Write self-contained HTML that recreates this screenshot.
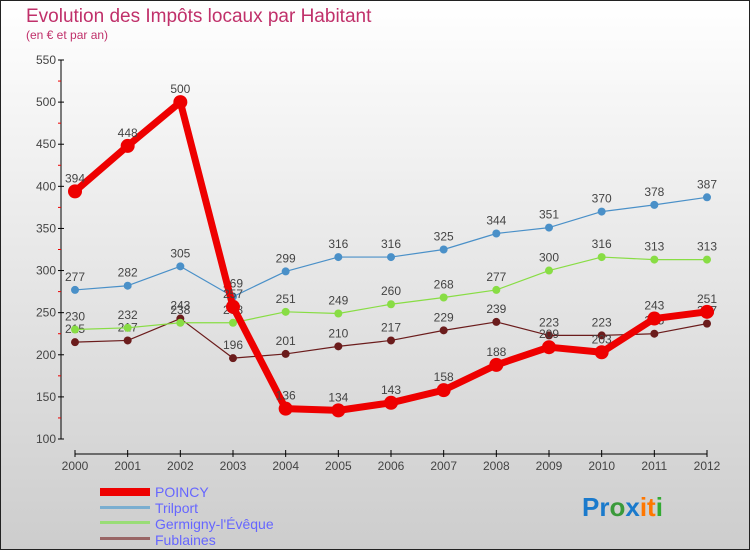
<!DOCTYPE html>
<html><head><meta charset="utf-8"><style>
body{margin:0;width:750px;height:550px;overflow:hidden}
svg{display:block;font-family:"Liberation Sans",sans-serif}
</style></head><body>
<svg id="c" width="750" height="550">
<defs><linearGradient id="bg" x1="0" y1="0" x2="0" y2="1"><stop offset="0" stop-color="#ffffff"/><stop offset="1" stop-color="#cdcdcd"/></linearGradient></defs>
<rect x="0.5" y="0.5" width="749" height="549" fill="url(#bg)" stroke="#222"/>
<text x="26" y="22" font-size="19" fill="#c0306a">Evolution des Impôts locaux par Habitant</text>
<text x="26" y="39" font-size="12" fill="#c0306a">(en € et par an)</text>
<g id="axes"></g>
<g id="series"></g>
<g>
<rect x="100" y="488" width="50" height="8" fill="#ee0000"/>
<text x="155" y="497" font-size="14" fill="#6666ff">POINCY</text>
<rect x="100" y="506" width="50" height="3" fill="#7aaed0"/>
<text x="155" y="513" font-size="14" fill="#6666ff">Trilport</text>
<rect x="100" y="521" width="50" height="3" fill="#99dd77"/>
<text x="155" y="529" font-size="14" fill="#6666ff">Germigny-l'Évêque</text>
<rect x="100" y="537" width="50" height="3" fill="#996666"/>
<text x="155" y="545" font-size="14" fill="#6666ff">Fublaines</text>
</g>
<text x="582" y="516" font-size="26" font-weight="bold"><tspan fill="#1a7acc">Pr</tspan><tspan fill="#3a9a3a">o</tspan><tspan fill="#1a7acc">x</tspan><tspan fill="#ff7700">it</tspan><tspan fill="#33aa33">i</tspan></text>
</svg>
<script>
const years=[2000,2001,2002,2003,2004,2005,2006,2007,2008,2009,2010,2011,2012];
const poincy=[394,448,500,257,136,134,143,158,188,209,203,243,251];
const trilport=[277,282,305,269,299,316,316,325,344,351,370,378,387];
const germigny=[230,232,238,238,251,249,260,268,277,300,316,313,313];
const fublaines=[215,217,243,196,201,210,217,229,239,223,223,225,237];
const yTicks=[100,150,200,250,300,350,400,450,500,550];
const NS="http://www.w3.org/2000/svg";
const X=i=>75+i*(707-75)/(years.length-1);
const Y=v=>439-(v-100)*(439-60)/450;
function mk(tag,attrs,parent,txt){const e=document.createElementNS(NS,tag);for(const k in attrs)e.setAttribute(k,attrs[k]);if(txt!==undefined)e.textContent=txt;parent.appendChild(e);return e;}
const ax=document.getElementById('axes');
let e=mk('line',{x1:61,y1:Y(550),x2:61,y2:Y(100),stroke:'#000'},ax);


yTicks.forEach(t=>{
 const l=mk('line',{x1:58,x2:64,y1:Y(t),y2:Y(t),stroke:'#000'},ax);
 
 
 const tx=mk('text',{x:56,y:Y(t)+4,'text-anchor':'end','font-size':12,fill:'#444'},ax,t);
 
 
 if(t<550){const m=mk('line',{x1:58,x2:61,y1:Y(t+25),y2:Y(t+25),stroke:'#e00'},ax);
 
 }
});
e=mk('line',{x1:75,y1:454,x2:707,y2:454,stroke:'#000'},ax);


years.forEach((y,i)=>{
 const l=mk('line',{x1:X(i),x2:X(i),y1:450,y2:457,stroke:'#000'},ax);
 
 
 const tx=mk('text',{x:X(i),y:470,'text-anchor':'middle','font-size':12,fill:'#444'},ax,y);
 
 
});
const sg=document.getElementById('series');
function draw(vals,name,color,w,r){
 const g=mk('g',{},sg);
 
 
 const p=mk('polyline',{points:vals.map((v,i)=>X(i)+','+Y(v)).join(' '),fill:'none',stroke:color,'stroke-width':w,'stroke-linejoin':'round'},g);
 
 
 vals.forEach((v,i)=>{
  const c=mk('circle',{cx:X(i),cy:Y(v),r:r,fill:color},g);
  
  
  const t=mk('text',{x:X(i),y:Y(v)-9,'text-anchor':'middle','font-size':12,fill:'#444'},g,v);
  
  
 });
}
draw(fublaines,'fublaines','#6b1c1c',1.2,4);
draw(germigny,'germigny','#88dd44',1.2,4);
draw(trilport,'trilport','#4a90c8',1.2,4);
draw(poincy,'poincy','#ee0000',7,7);
</script>
</body></html>
